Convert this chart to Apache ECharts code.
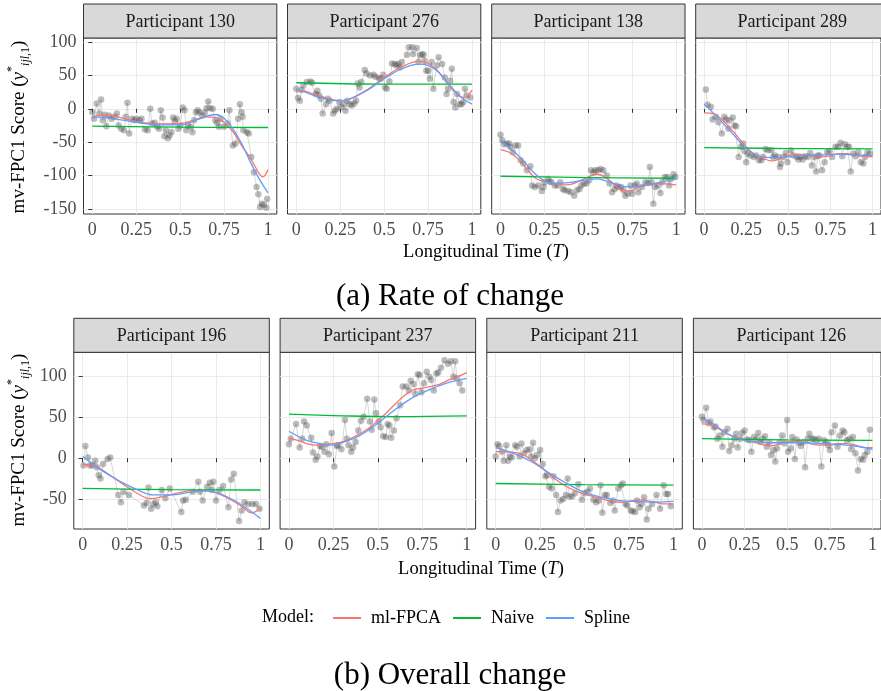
<!DOCTYPE html>
<html><head><meta charset="utf-8">
<script src="https://cdn.jsdelivr.net/npm/echarts@6/dist/echarts.min.js"></script>
<style>html,body{margin:0;padding:0;background:#fff}#c{width:881px;height:691px}</style>
</head><body><div id="c"></div>
<script>
// ---------------- DATA ----------------
const xTicks = [0, 0.25, 0.5, 0.75, 1];
const yTicksTop = [-150, -100, -50, 0, 50, 100];
const yTicksBottom = [-50, 0, 50, 100];
const participantsTop = ['Participant 130', 'Participant 276', 'Participant 138', 'Participant 289'];
const participantsBottom = ['Participant 196', 'Participant 237', 'Participant 211', 'Participant 126'];
const modelNames = ['ml-FPCA', 'Naive', 'Spline'];
const captionTop = '(a) Rate of change';
const captionBottom = '(b) Overall change';

// Observed scores [T, score]
const obs130 = [[0,-5],[0.01,-15],[0.025,8],[0.04,-7],[0.05,14],[0.06,-17],[0.07,-9],[0.08,-26],[0.095,-10],[0.11,-15],[0.125,-12],[0.14,-7],[0.15,-25],[0.165,-30],[0.18,-32],[0.19,-12],[0.2,9],[0.21,-37],[0.225,-15],[0.24,-17],[0.25,-15],[0.27,-17],[0.28,-15],[0.3,-31],[0.315,-32],[0.33,0],[0.34,-22],[0.355,-21],[0.37,-27],[0.38,-30],[0.39,-2],[0.4,-13],[0.41,-41],[0.42,-32],[0.43,-44],[0.44,-40],[0.45,-35],[0.46,-13],[0.47,-18],[0.48,-15],[0.49,-30],[0.5,-25],[0.515,2],[0.525,-2],[0.535,-32],[0.545,-25],[0.56,-27],[0.57,-35],[0.58,-17],[0.59,-5],[0.6,-2],[0.61,-5],[0.625,-10],[0.64,-6],[0.65,1],[0.66,11],[0.67,1],[0.685,0],[0.7,-17],[0.71,-21],[0.72,-27],[0.73,-15],[0.75,-27],[0.77,-22],[0.78,-2],[0.8,-55],[0.815,-52],[0.83,-15],[0.84,7],[0.85,-5],[0.855,-12],[0.86,-32],[0.88,-35],[0.89,-37],[0.905,-72],[0.92,-95],[0.935,-117],[0.945,-128],[0.955,-147],[0.965,-142],[0.975,-144],[0.99,-148],[0.995,-135]];
const obs276 = [[0,30],[0.01,16],[0.02,12],[0.03,28],[0.04,35],[0.06,40],[0.08,41],[0.09,39],[0.11,22],[0.12,27],[0.13,20],[0.14,15],[0.15,-7],[0.17,7],[0.18,15],[0.19,12],[0.21,-7],[0.22,-3],[0.23,0],[0.245,10],[0.255,2],[0.27,7],[0.28,-3],[0.29,12],[0.305,7],[0.315,5],[0.33,8],[0.34,12],[0.35,38],[0.36,32],[0.37,40],[0.39,58],[0.4,53],[0.42,50],[0.44,51],[0.45,48],[0.47,46],[0.48,45],[0.495,51],[0.505,32],[0.515,30],[0.53,41],[0.545,68],[0.56,67],[0.57,65],[0.58,67],[0.59,62],[0.6,70],[0.63,81],[0.64,92],[0.66,92],[0.665,82],[0.685,91],[0.695,70],[0.705,80],[0.715,82],[0.725,81],[0.73,72],[0.74,57],[0.75,57],[0.76,45],[0.77,70],[0.78,30],[0.8,65],[0.81,77],[0.83,67],[0.845,47],[0.855,22],[0.865,30],[0.875,42],[0.885,60],[0.895,10],[0.905,2],[0.915,22],[0.93,7],[0.94,7],[0.95,10],[0.96,30],[0.97,20],[0.99,17]];
const obs138 = [[0,-39],[0.01,-47],[0.02,-53],[0.035,-52],[0.05,-52],[0.055,-57],[0.07,-65],[0.085,-55],[0.1,-55],[0.115,-77],[0.13,-82],[0.15,-92],[0.17,-86],[0.18,-115],[0.195,-117],[0.215,-115],[0.235,-123],[0.245,-117],[0.25,-110],[0.27,-105],[0.28,-109],[0.29,-110],[0.31,-115],[0.325,-115],[0.34,-110],[0.355,-120],[0.365,-122],[0.385,-123],[0.4,-125],[0.42,-130],[0.435,-122],[0.45,-120],[0.46,-115],[0.475,-112],[0.49,-112],[0.505,-107],[0.515,-92],[0.53,-95],[0.54,-92],[0.555,-92],[0.57,-90],[0.585,-92],[0.605,-100],[0.62,-112],[0.635,-125],[0.65,-120],[0.66,-115],[0.67,-117],[0.685,-117],[0.7,-122],[0.71,-130],[0.725,-127],[0.74,-115],[0.75,-127],[0.765,-115],[0.775,-112],[0.785,-125],[0.805,-117],[0.825,-110],[0.84,-111],[0.85,-87],[0.86,-110],[0.87,-142],[0.88,-117],[0.895,-115],[0.91,-126],[0.92,-110],[0.935,-102],[0.95,-102],[0.96,-115],[0.97,-105],[0.985,-98],[0.995,-102]];
const obs289 = [[0.01,29],[0.02,6],[0.04,3],[0.05,-16],[0.07,-12],[0.085,-20],[0.105,-37],[0.12,-12],[0.13,-16],[0.145,-30],[0.15,-17],[0.17,-13],[0.18,-25],[0.19,-26],[0.205,-72],[0.22,-57],[0.23,-52],[0.24,-63],[0.25,-80],[0.26,-67],[0.275,-70],[0.295,-72],[0.31,-70],[0.325,-77],[0.34,-77],[0.35,-72],[0.365,-60],[0.38,-62],[0.4,-62],[0.41,-72],[0.42,-70],[0.44,-72],[0.45,-87],[0.455,-82],[0.47,-72],[0.485,-66],[0.495,-80],[0.515,-62],[0.53,-70],[0.55,-72],[0.56,-76],[0.57,-72],[0.585,-76],[0.6,-71],[0.615,-72],[0.63,-66],[0.64,-85],[0.655,-72],[0.665,-94],[0.675,-70],[0.685,-70],[0.7,-92],[0.715,-80],[0.73,-65],[0.745,-63],[0.76,-72],[0.78,-57],[0.795,-57],[0.81,-51],[0.82,-71],[0.835,-53],[0.85,-57],[0.86,-57],[0.87,-94],[0.885,-67],[0.9,-71],[0.915,-65],[0.93,-80],[0.945,-82],[0.955,-72],[0.97,-65],[0.985,-67]];
const obs196 = [[0.005,-9],[0.015,15],[0.03,1],[0.04,-9],[0.055,-9],[0.07,-3],[0.08,-11],[0.09,-21],[0.1,-25],[0.115,-7],[0.14,-1],[0.155,1],[0.2,-45],[0.215,-54],[0.23,-41],[0.26,-45],[0.345,-58],[0.36,-55],[0.37,-36],[0.385,-62],[0.4,-56],[0.41,-54],[0.42,-59],[0.445,-39],[0.465,-49],[0.49,-37],[0.555,-66],[0.565,-52],[0.58,-51],[0.62,-41],[0.65,-29],[0.66,-41],[0.675,-52],[0.7,-35],[0.715,-30],[0.725,-39],[0.735,-29],[0.75,-52],[0.77,-39],[0.79,-34],[0.82,-60],[0.835,-26],[0.85,-19],[0.88,-77],[0.895,-64],[0.91,-54],[0.93,-56],[0.955,-56],[0.975,-56],[0.995,-62]];
const obs237 = [[0,17],[0.01,24],[0.04,42],[0.06,13],[0.075,24],[0.085,45],[0.1,40],[0.125,25],[0.135,7],[0.15,-2],[0.16,2],[0.175,15],[0.185,14],[0.2,8],[0.21,17],[0.225,5],[0.24,31],[0.255,-10],[0.27,15],[0.275,16],[0.295,11],[0.315,47],[0.325,24],[0.335,16],[0.35,8],[0.36,13],[0.375,20],[0.39,34],[0.405,46],[0.42,51],[0.44,73],[0.455,45],[0.465,35],[0.48,72],[0.49,55],[0.505,45],[0.515,38],[0.53,27],[0.545,26],[0.555,42],[0.565,40],[0.575,25],[0.59,34],[0.605,49],[0.625,65],[0.64,88],[0.66,88],[0.675,83],[0.685,95],[0.7,91],[0.71,79],[0.725,103],[0.735,102],[0.745,81],[0.76,92],[0.775,106],[0.79,100],[0.8,96],[0.815,83],[0.83,104],[0.84,105],[0.855,111],[0.875,120],[0.895,116],[0.91,119],[0.925,100],[0.935,119],[0.945,98],[0.96,92],[0.975,83]];
const obs211 = [[0,2],[0.01,17],[0.02,15],[0.035,8],[0.045,-3],[0.06,16],[0.07,-3],[0.08,2],[0.09,1],[0.11,16],[0.12,14],[0.135,2],[0.145,18],[0.16,6],[0.175,10],[0.19,11],[0.2,2],[0.21,19],[0.22,0],[0.235,4],[0.25,10],[0.265,-7],[0.28,-22],[0.29,-21],[0.3,-35],[0.315,-37],[0.325,-22],[0.34,-45],[0.35,-66],[0.365,-52],[0.38,-50],[0.395,-45],[0.405,-25],[0.415,-47],[0.43,-47],[0.445,-43],[0.465,-32],[0.485,-51],[0.5,-43],[0.515,-41],[0.53,-37],[0.55,-51],[0.565,-54],[0.58,-52],[0.59,-33],[0.6,-67],[0.615,-45],[0.625,-45],[0.645,-55],[0.66,-52],[0.67,-64],[0.69,-37],[0.705,-33],[0.715,-31],[0.73,-56],[0.74,-58],[0.76,-64],[0.77,-65],[0.785,-66],[0.795,-52],[0.81,-60],[0.82,-56],[0.835,-48],[0.85,-75],[0.86,-62],[0.88,-56],[0.905,-45],[0.925,-62],[0.945,-33],[0.96,-44],[0.97,-44],[0.985,-59]];
const obs126 = [[0,51],[0.01,47],[0.025,62],[0.04,43],[0.05,45],[0.07,38],[0.08,39],[0.09,24],[0.105,28],[0.12,14],[0.13,32],[0.15,36],[0.16,9],[0.175,16],[0.19,24],[0.2,30],[0.21,13],[0.225,24],[0.235,31],[0.25,34],[0.265,23],[0.28,22],[0.29,8],[0.305,26],[0.32,23],[0.33,31],[0.345,20],[0.355,24],[0.37,27],[0.38,14],[0.395,20],[0.405,4],[0.42,10],[0.43,-4],[0.44,12],[0.455,20],[0.47,28],[0.485,18],[0.5,47],[0.505,8],[0.52,12],[0.53,26],[0.545,-1],[0.555,23],[0.57,19],[0.58,15],[0.595,20],[0.605,-11],[0.62,24],[0.63,30],[0.645,24],[0.655,24],[0.67,22],[0.685,24],[0.7,-10],[0.715,22],[0.73,20],[0.74,16],[0.75,10],[0.76,32],[0.78,40],[0.795,14],[0.81,28],[0.825,34],[0.835,32],[0.85,22],[0.865,24],[0.875,11],[0.885,26],[0.9,6],[0.915,-15],[0.93,-1],[0.945,-2],[0.955,4],[0.97,8],[0.985,35]];

// Fitted curves [T, score]
const fpca130 = [[0,-12],[0.05,-9.5],[0.1,-10],[0.2,-16],[0.3,-21],[0.4,-22.5],[0.5,-22],[0.58,-17],[0.65,-12],[0.7,-13],[0.75,-20],[0.8,-34],[0.85,-55],[0.9,-74],[0.95,-97],[0.97,-102],[1,-91]];
const naive130 = [[0,-26],[0.5,-27.5],[1,-28]];
const spline130 = [[0,-12],[0.1,-14],[0.2,-18],[0.3,-22],[0.4,-24],[0.5,-24],[0.6,-16],[0.7,-8.5],[0.75,-14],[0.8,-30],[0.85,-52],[0.9,-80],[0.95,-105],[1,-126]];
const fpca276 = [[0,25],[0.03,27],[0.1,22],[0.2,14],[0.25,12],[0.3,14],[0.4,28],[0.45,37],[0.5,47],[0.6,63],[0.7,71],[0.75,68],[0.8,58],[0.85,42],[0.9,26],[0.95,17],[0.97,18],[1,28]];
const naive276 = [[0,39],[0.5,37],[1,37]];
const spline276 = [[0,30],[0.1,20],[0.2,13],[0.25,12],[0.3,14],[0.4,27],[0.5,45],[0.6,60],[0.7,67],[0.75,65],[0.8,57],[0.85,43],[0.9,27],[0.95,15],[1,7]];
const fpca138 = [[0,-61],[0.05,-65],[0.1,-75],[0.15,-90],[0.2,-104],[0.25,-109],[0.3,-112],[0.35,-114],[0.4,-113],[0.45,-108],[0.5,-102],[0.55,-98],[0.6,-103],[0.65,-114],[0.7,-123],[0.75,-122],[0.8,-116],[0.85,-114],[0.9,-112],[1,-114]];
const naive138 = [[0,-101],[0.5,-103],[1,-104]];
const spline138 = [[0,-48],[0.1,-70],[0.2,-98],[0.25,-108],[0.3,-112],[0.4,-110],[0.5,-106],[0.55,-105],[0.6,-108],[0.7,-116],[0.75,-117],[0.85,-113],[0.95,-108],[1,-104]];
const fpca289 = [[0,-6],[0.05,-7],[0.1,-15],[0.15,-28],[0.2,-42],[0.25,-57],[0.3,-68],[0.35,-74],[0.4,-78],[0.45,-75],[0.5,-70],[0.55,-68],[0.6,-69],[0.65,-71],[0.7,-72],[0.75,-70],[0.8,-67],[0.85,-67],[0.9,-70],[1,-72]];
const naive289 = [[0,-58],[0.5,-59.5],[1,-60]];
const spline289 = [[0,7],[0.05,-5],[0.1,-18],[0.15,-32],[0.2,-46],[0.25,-60],[0.3,-68],[0.35,-72],[0.4,-73],[0.5,-72],[0.6,-70],[0.7,-69],[0.8,-68],[0.9,-69],[1,-70]];
const fpca196 = [[0,-8],[0.05,-8],[0.1,-13],[0.2,-28],[0.3,-42],[0.38,-49.5],[0.45,-47],[0.55,-42],[0.6,-40],[0.7,-40],[0.75,-42.5],[0.8,-47],[0.85,-53],[0.9,-60],[0.95,-67],[1,-61]];
const naive196 = [[0,-37],[0.5,-38.5],[1,-39]];
const spline196 = [[0,2],[0.05,-6],[0.1,-14],[0.2,-27],[0.3,-38],[0.4,-45],[0.5,-45],[0.6,-42],[0.7,-40],[0.8,-46],[0.9,-58],[1,-74]];
const fpca237 = [[0,24],[0.05,22],[0.1,18],[0.15,16],[0.2,17],[0.25,18],[0.3,20],[0.4,30],[0.45,37],[0.5,46],[0.55,56],[0.6,67],[0.65,77],[0.7,84],[0.75,86],[0.8,88],[0.85,91],[0.9,96],[0.95,100],[1,105]];
const naive237 = [[0,54],[0.3,52],[0.6,51],[1,52]];
const spline237 = [[0,33],[0.1,22],[0.2,17],[0.25,16],[0.3,19],[0.4,28],[0.5,43],[0.6,60],[0.7,75],[0.8,85],[0.9,93],[1,98]];
const fpca211 = [[0,8],[0.1,7],[0.15,5],[0.2,-2],[0.25,-10],[0.3,-19],[0.35,-28],[0.4,-35],[0.45,-40],[0.5,-44],[0.55,-47],[0.6,-50],[0.65,-53],[0.7,-54],[0.75,-53],[0.8,-51],[0.85,-52],[0.9,-54],[0.95,-56],[1,-56]];
const naive211 = [[0,-31],[0.5,-32.5],[1,-33]];
const spline211 = [[0,13],[0.1,6],[0.2,-4],[0.3,-18],[0.4,-31],[0.5,-42],[0.6,-48],[0.7,-52],[0.8,-53],[0.9,-54],[1,-53]];
const fpca126 = [[0,42],[0.05,41],[0.1,36],[0.15,30],[0.2,26],[0.25,23],[0.3,20],[0.35,17],[0.4,15],[0.45,17],[0.5,20],[0.55,21],[0.6,20],[0.65,17],[0.7,16],[0.75,16],[0.8,18],[0.85,18],[0.9,16],[0.95,13],[1,13]];
const naive126 = [[0,24],[0.5,22.5],[1,22]];
const spline126 = [[0,49],[0.05,44],[0.1,37],[0.15,30],[0.2,25],[0.25,22],[0.3,20],[0.4,19],[0.5,19],[0.6,19],[0.7,18],[0.8,17],[0.9,15],[1,11]];

// ---------------- LAYOUT ----------------
const FONT = 'Liberation Serif';
const COLORS = {'ml-FPCA': '#F8766D', 'Naive': '#00BA38', 'Spline': '#619CFF'};
const panels = [
  {title: participantsTop[0], obs: obs130, fits: [fpca130, naive130, spline130]},
  {title: participantsTop[1], obs: obs276, fits: [fpca276, naive276, spline276]},
  {title: participantsTop[2], obs: obs138, fits: [fpca138, naive138, spline138]},
  {title: participantsTop[3], obs: obs289, fits: [fpca289, naive289, spline289]},
  {title: participantsBottom[0], obs: obs196, fits: [fpca196, naive196, spline196]},
  {title: participantsBottom[1], obs: obs237, fits: [fpca237, naive237, spline237]},
  {title: participantsBottom[2], obs: obs211, fits: [fpca211, naive211, spline211]},
  {title: participantsBottom[3], obs: obs126, fits: [fpca126, naive126, spline126]}
];
const rows = [
  {top: 38, height: 176, stripTop: 4, lefts: [83.5, 287.5, 491.7, 695.7], width: 193.3, yMin: -157.5, yMax: 106, ticks: yTicksTop},
  {top: 352.3, height: 176.7, stripTop: 318.3, lefts: [73.8, 280.1, 486.8, 693.4], width: 195.5, yMin: -86.8, yMax: 129.9, ticks: yTicksBottom}
];

const grid = [], xAxis = [], yAxis = [], series = [], graphic = [];
panels.forEach((p, i) => {
  const r = rows[Math.floor(i / 4)];
  const c = i % 4;
  const left = r.lefts[c];
  grid.push({left: left, top: r.top, width: r.width, height: r.height, show: true,
    borderColor: '#333333', borderWidth: 1, backgroundColor: '#fff', containLabel: false});
  xAxis.push({type: 'value', gridIndex: i, min: -0.05, max: 1.05,
    axisLine: {show: false},
    axisTick: {show: true, length: 4, lineStyle: {color: '#333333'}, customValues: xTicks},
    axisLabel: {show: true, customValues: xTicks, margin: 7, color: '#4D4D4D', fontFamily: FONT, fontSize: 18,
      formatter: v => String(+v.toFixed(2))},
    splitLine: {show: true, lineStyle: {color: '#EBEBEB', width: 1}}
  });
  const first = c === 0;
  yAxis.push({type: 'value', gridIndex: i, min: r.yMin, max: r.yMax,
    axisLine: {show: false},
    axisTick: {show: first, length: 4, lineStyle: {color: '#333333'}, customValues: r.ticks},
    axisLabel: {show: first, customValues: r.ticks, margin: 7, color: '#4D4D4D', fontFamily: FONT, fontSize: 18},
    splitLine: {show: true, lineStyle: {color: '#EBEBEB', width: 1}}
  });
  series.push({name: 'obs' + i, type: 'line', xAxisIndex: i, yAxisIndex: i, data: p.obs,
    symbol: 'circle', symbolSize: 6.5, showSymbol: true, silent: true, z: 2,
    itemStyle: {color: 'rgba(80,80,80,0.38)', borderWidth: 0},
    lineStyle: {color: 'rgba(120,120,120,0.33)', width: 0.9}});
  p.fits.forEach((f, k) => {
    series.push({name: modelNames[k], type: 'line', xAxisIndex: i, yAxisIndex: i, data: f,
      smooth: 0.4, symbol: 'none', showSymbol: false, z: 3 + k, silent: true,
      lineStyle: {color: COLORS[modelNames[k]], width: 1.3}, itemStyle: {color: COLORS[modelNames[k]]}});
  });
  graphic.push({type: 'rect', shape: {x: left, y: r.stripTop, width: r.width, height: r.top - r.stripTop},
    style: {fill: '#D9D9D9', stroke: '#333333', lineWidth: 1}, z: 10});
  graphic.push({type: 'text', x: left + r.width / 2, y: r.stripTop + (r.top - r.stripTop) / 2 + 1,
    style: {text: p.title, fill: '#1A1A1A', font: '18px "' + FONT + '"', align: 'center', verticalAlign: 'middle'}, z: 11});
});

const yTitleRich = {
  n: {fontFamily: FONT, fontSize: 19, fill: '#000', lineHeight: 26, verticalAlign: 'middle'},
  i: {fontFamily: FONT, fontSize: 19, fontStyle: 'italic', fill: '#000', lineHeight: 26, verticalAlign: 'middle'},
  sup: {fontFamily: FONT, fontSize: 12, fill: '#000', lineHeight: 26, verticalAlign: 'top', padding: [0, 0, 4, 0]},
  sub: {fontFamily: FONT, fontSize: 12, fontStyle: 'italic', fill: '#000', lineHeight: 26, verticalAlign: 'bottom'},
  subn: {fontFamily: FONT, fontSize: 12, fill: '#000', lineHeight: 26, verticalAlign: 'bottom'}
};
[{x: 19, y: 127}, {x: 19, y: 440}].forEach(pos => {
  graphic.push({type: 'text', x: pos.x, y: pos.y, rotation: Math.PI / 2,
    style: {text: '{n|mv-FPC1 Score (}{i|y}{sup|*}{sub|ijl}{subn|,1}{n|)}', rich: yTitleRich, align: 'center', verticalAlign: 'middle'}});
});
const xTitleRich = {
  n: {fontFamily: FONT, fontSize: 18.5, fill: '#000'},
  i: {fontFamily: FONT, fontSize: 18.5, fontStyle: 'italic', fill: '#000'}
};
[{x: 486, y: 252}, {x: 481, y: 569}].forEach(pos => {
  graphic.push({type: 'text', x: pos.x, y: pos.y,
    style: {text: '{n|Longitudinal Time (}{i|T}{n|)}', rich: xTitleRich, align: 'center', verticalAlign: 'middle'}});
});
graphic.push({type: 'text', x: 450, y: 297, style: {text: captionTop, fill: '#000', font: '31px "' + FONT + '"', align: 'center', verticalAlign: 'middle'}});
graphic.push({type: 'text', x: 450, y: 676, style: {text: captionBottom, fill: '#000', font: '31px "' + FONT + '"', align: 'center', verticalAlign: 'middle'}});
graphic.push({type: 'text', x: 262, y: 617, style: {text: 'Model:', fill: '#000', font: '18px "' + FONT + '"', align: 'left', verticalAlign: 'middle'}});

const chart = echarts.init(document.getElementById('c'), null, {renderer: 'canvas'});
chart.setOption({
  animation: false,
  backgroundColor: '#fff',
  grid, xAxis, yAxis, series, graphic,
  legend: {data: modelNames, left: 328, top: 604, itemWidth: 28, itemHeight: 18, itemGap: 12,
    selectedMode: false, icon: 'path://M0,0 L28,0 L28,2 L0,2 Z',
    textStyle: {fontFamily: FONT, fontSize: 18, color: '#000', padding: [0, 0, 0, 5]}}
});
</script></body></html>
